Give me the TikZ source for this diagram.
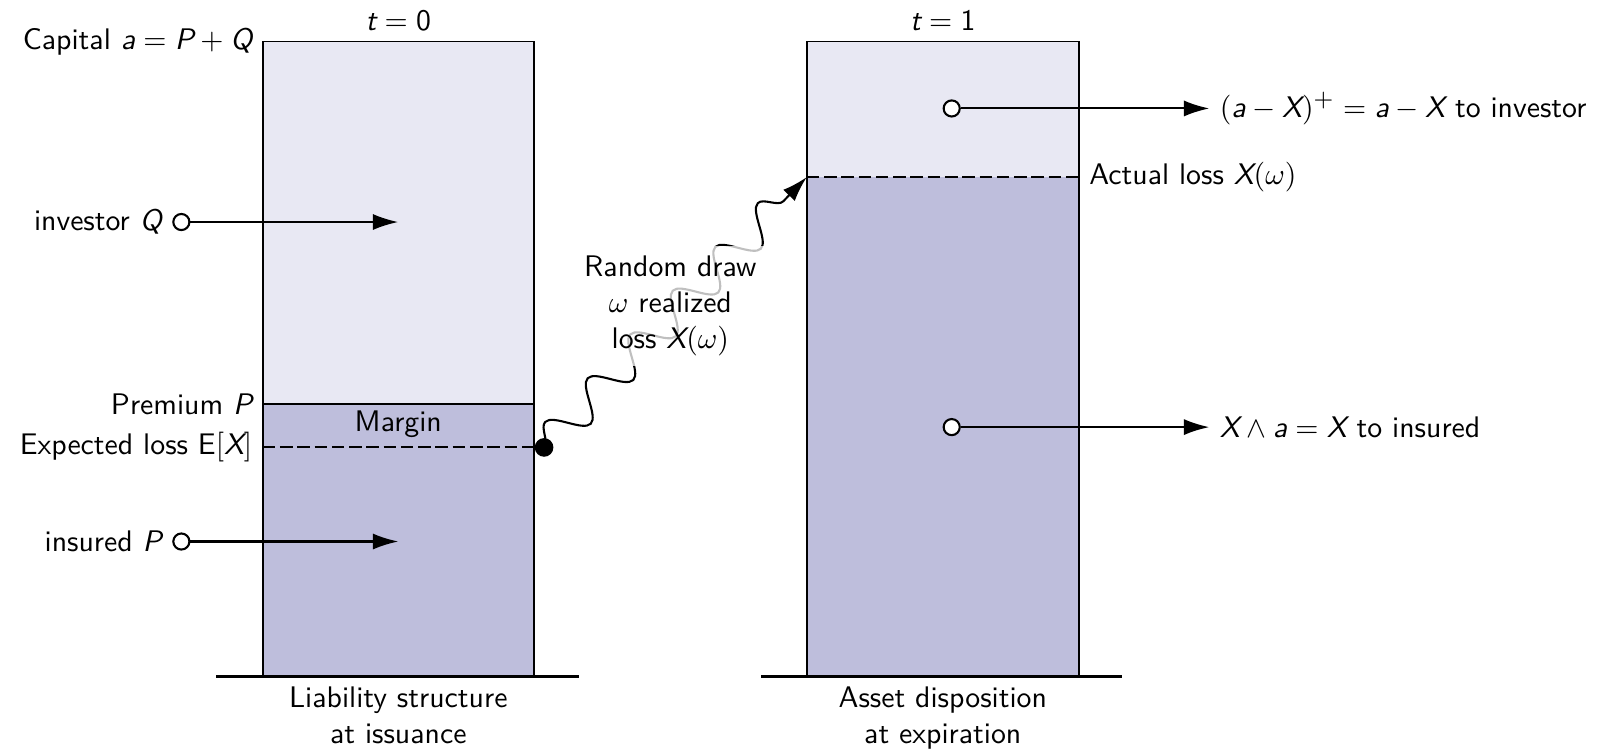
\documentclass[tikz,border=0pt]{standalone}
\usepackage{fontspec}
\setmainfont{Latin Modern Sans}
\usepackage[italic]{mathastext}
\DeclareMathSymbol{\cminus}{\mathbin}{symbols}{"00}
\usetikzlibrary{arrows.meta,positioning,decorations.pathmorphing}
\definecolor{capsoft}{HTML}{E8E8F3}
\definecolor{capdeep}{HTML}{BEBEDC}

\begin{document}
\begin{tikzpicture}[>=Latex,
  tank/.style={draw=black, line width=0.6pt},
  ground/.style={draw=black, line width=0.85pt},
  flow/.style={-{Latex[length=0.3cm,width=0.19cm]}, line width=0.7pt},
  tap/.style={circle, draw=black, line width=0.7pt, fill=white, inner sep=0pt, minimum size=0.19cm},
  level/.style={line width=0.7pt, dash pattern=on 4.2pt off 1.6pt}]
  \useasboundingbox (0,0) rectangle (18.88,8.90);

  % liability stack at t = 0
  \fill[capsoft] (3.10,4.13) rectangle (6.30,8.41);
  \fill[capdeep] (3.10,0.92) rectangle (6.30,4.13);
  \draw[tank] (3.10,0.92) rectangle (6.30,8.41);
  \draw[tank] (3.10,4.13) -- (6.30,4.13);
  \coordinate (eloss) at (6.30,3.62);
  \draw[level] (3.10,3.62) -- (eloss);
  \draw[ground] (2.55,0.92) -- (6.83,0.92);

  \node[above] (t0) at (4.70,8.41) {$t=\mbox{0}$};
  \node[anchor=east] (capl) at (3.10,8.41) {Capital $a=P+Q$};
  \node[anchor=east] (preml) at (3.10,4.13) {Premium $P$};
  \node[anchor=east] (elossl) at (3.10,3.62) {Expected loss E$[X]$};
  \node (margin) at (4.70,3.89) {Margin};
  \node[below, align=center] (liabl) at (4.70,0.92) {Liability structure\\at issuance};

  \node[tap] (invq) at (2.14,6.28) {};
  \node[left=0pt of invq] (invql) {investor $Q$};
  \coordinate (invqend) at (4.70,6.28);
  \draw[flow] (invq) -- (invqend);

  \node[tap] (insp) at (2.14,2.51) {};
  \node[left=0pt of insp] (inspl) {insured $P$};
  \coordinate (inspend) at (4.70,2.51);
  \draw[flow] (insp) -- (inspend);

  % asset stack at t = 1
  \fill[capsoft] (9.52,6.81) rectangle (12.73,8.41);
  \fill[capdeep] (9.52,0.92) rectangle (12.73,6.81);
  \draw[tank] (9.52,0.92) rectangle (12.73,8.41);
  \coordinate (aloss) at (9.52,6.81);
  \draw[level] (aloss) -- (12.73,6.81);
  \draw[ground] (8.98,0.92) -- (13.24,0.92);

  \node[above] (t1) at (11.125,8.41) {$t=\mbox{1}$};
  \node[anchor=west] (alossl) at (12.73,6.81) {Actual loss $X(\omega)$};
  \node[below, align=center] (assetl) at (11.125,0.92) {Asset disposition\\at expiration};

  \node[tap] (toinv) at (11.23,7.62) {};
  \coordinate (toinvend) at (14.27,7.62);
  \draw[flow] (toinv) -- (toinvend);
  \node[right=0pt of toinvend] (toinvl) {$(a\cminus X)^+=a\cminus X$ to investor};

  \node[tap] (toins) at (11.23,3.86) {};
  \coordinate (toinsend) at (14.27,3.86);
  \draw[flow] (toins) -- (toinsend);
  \node[right=0pt of toinsend] (toinsl) {$X\wedge a=X$ to insured};

  % the random draw
  \node[circle, fill=black, inner sep=0pt, minimum size=0.22cm] (omega) at (6.42,3.62) {};
  \draw[line width=0.7pt, -{Latex[length=0.3cm,width=0.19cm]}, decorate,
    decoration={snake, amplitude=0.2cm, segment length=0.72cm, post length=0.22cm}]
    (omega.center) -- (aloss);
  \node[fill=white, fill opacity=0.75, text opacity=1, align=center] (drawl) at (7.91,5.29)
    {Random draw\\$\omega$ realized\\loss $X(\omega)$};
\end{tikzpicture}
\end{document}
